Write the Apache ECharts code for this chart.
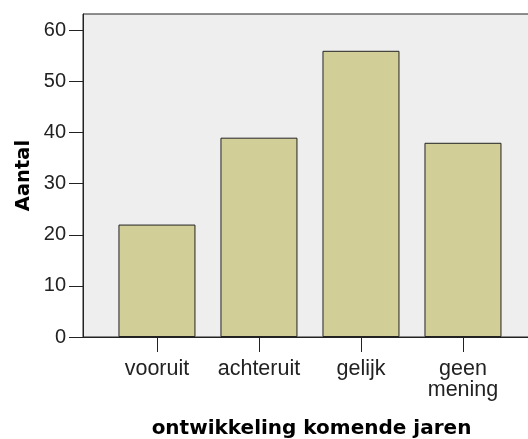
<!DOCTYPE html>
<html>
<head>
<meta charset="utf-8">
<script src="https://cdn.jsdelivr.net/npm/echarts@6/dist/echarts.min.js"></script>
<style>
  html, body { margin: 0; padding: 0; background: #fff; }
  #chart { width: 528px; height: 439px; }
</style>
</head>
<body>
<div id="chart"></div>
<script>
// categories and counts
const categories = ['vooruit', 'achteruit', 'gelijk', 'geen\nmening']
const counts = [22, 39, 56, 38]
const catPositions = [0, 1, 2, 3]
const yTicks = [0, 10, 20, 30, 40, 50, 60]

const font = '"Liberation Sans", Arial, sans-serif'
const boldFont = '"DejaVu Sans", Verdana, sans-serif'

const chart = echarts.init(document.getElementById('chart'))

const option = {
  animation: false,
  grid: {
    left: 83,
    right: -12,
    top: 14,
    bottom: 102,
    outerBoundsMode: 'none',
    show: true,
    backgroundColor: '#eeeeee',
    borderColor: '#222',
    borderWidth: 1
  },
  xAxis: {
    type: 'value',
    min: -0.725,
    max: 3.755,
    name: 'ontwikkeling komende jaren',
    nameLocation: 'middle',
    nameGap: 82,
    nameMoveOverlap: false,
    nameTextStyle: { fontFamily: boldFont, fontSize: 20, fontWeight: 'bold', color: '#000' },
    axisLine: { show: true, onZero: false, lineStyle: { color: '#222', width: 1 } },
    axisTick: { show: true, length: 15, customValues: catPositions, lineStyle: { color: '#222' } },
    axisLabel: {
      customValues: catPositions,
      margin: 22,
      fontFamily: font,
      fontSize: 21.5,
      lineHeight: 21,
      color: '#222',
      formatter: v => categories[Math.round(v)]
    },
    splitLine: { show: false }
  },
  yAxis: {
    type: 'value',
    min: 0,
    max: 63.2,
    name: 'Aantal',
    nameLocation: 'middle',
    nameGap: 49,
    nameRotate: 90,
    nameMoveOverlap: false,
    nameTextStyle: { fontFamily: boldFont, fontSize: 19.5, fontWeight: 'bold', color: '#000' },
    axisLine: { show: true, onZero: false, lineStyle: { color: '#222', width: 1 } },
    axisTick: { show: true, length: 14, customValues: yTicks, lineStyle: { color: '#222' } },
    axisLabel: {
      customValues: yTicks,
      margin: 17,
      fontFamily: font,
      fontSize: 20,
      color: '#222'
    },
    splitLine: { show: false }
  },
  series: [{
    type: 'bar',
    barWidth: 77,
    data: counts.map((c, i) => [catPositions[i], c]),
    itemStyle: {
      color: '#d2ce97',
      borderColor: '#222',
      borderWidth: 1
    }
  }]
}

chart.setOption(option)
</script>
</body>
</html>
